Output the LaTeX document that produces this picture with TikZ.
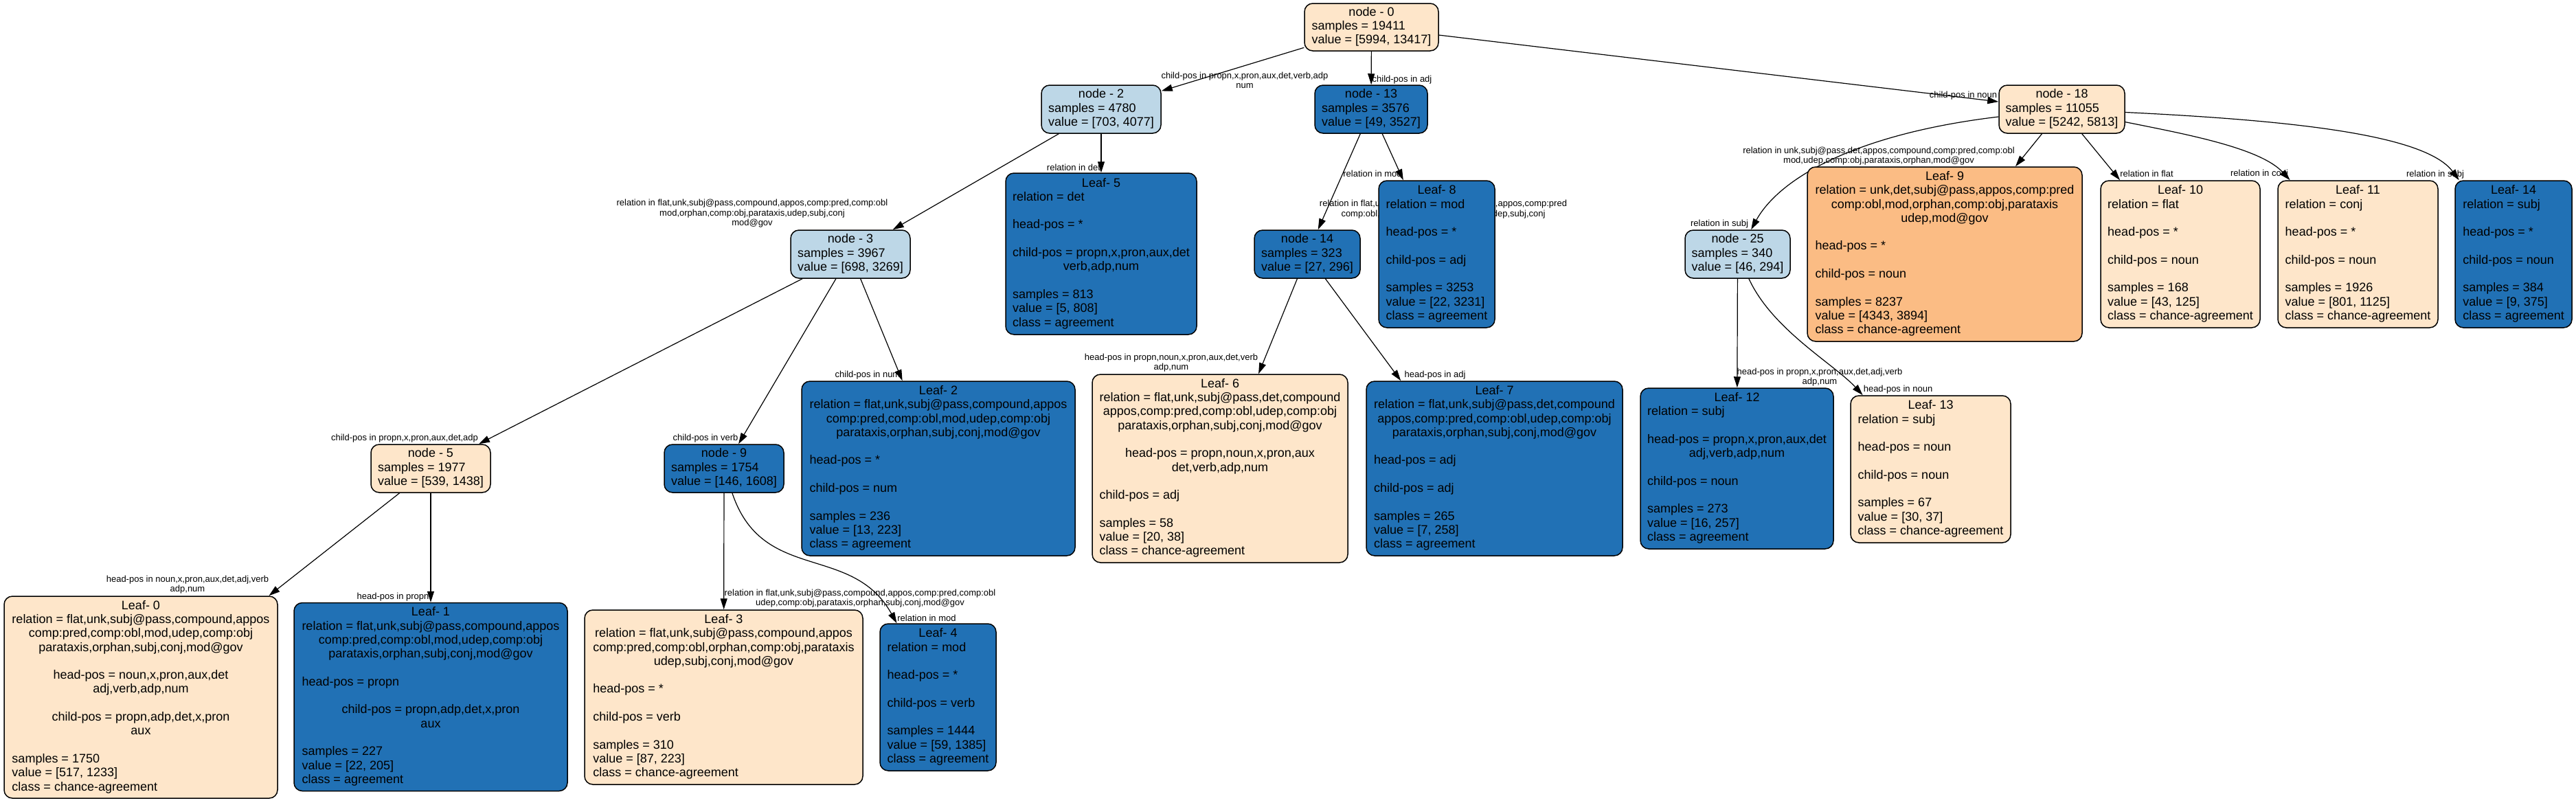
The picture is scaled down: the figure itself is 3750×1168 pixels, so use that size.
\documentclass[tikz,border=0pt]{standalone}
\usepackage{fontspec}
\setmainfont{Liberation Sans}
\usetikzlibrary{arrows.meta,calc}
\pgfdeclarelayer{bg}
\pgfdeclarelayer{paper}
\pgfsetlayers{paper,bg,main}
\definecolor{cream}{HTML}{FEE6CA}
\definecolor{orng}{HTML}{FBBC84}
\definecolor{lblue}{HTML}{BDD7E7}
\definecolor{dblue}{HTML}{2171B5}
\newcommand{\cl}[1]{\multicolumn{1}{@{}c@{}}{#1}}
\newcommand{\nodefont}{\fontsize{18}{20.3}\selectfont}
\newcommand{\edgefont}{\fontsize{13}{14.5}\selectfont}
\newenvironment{lines}{\begin{tabular}{@{}l@{}}}{\end{tabular}}
\tikzset{
  box/.style={draw=black, line width=1.5pt, rounded corners=12pt, inner sep=0pt, font=\nodefont},
  edge/.style={draw=black, line width=1.2pt, -{Triangle[length=16pt,width=10pt]}},
  elab/.style={font=\edgefont, align=center, inner sep=0pt}
}
\begin{document}
\begin{tikzpicture}[x=1pt,y=-1pt]
\begin{pgfonlayer}{paper}
\fill[white] (0,0) rectangle (3750,1168);
\end{pgfonlayer}
\useasboundingbox (0,0) rectangle (3750,1168);

% rank 0
\node[box, fill=cream, minimum width=195pt, minimum height=69pt] (n0) at (1996.5,39.5)
 {\begin{lines}\cl{node - 0}\\samples = 19411\\value = [5994, 13417]\end{lines}};
% rank 1
\node[box, fill=lblue, minimum width=174pt, minimum height=70pt] (n2) at (1603,159)
 {\begin{lines}\cl{node - 2}\\samples = 4780\\value = [703, 4077]\end{lines}};
\node[box, fill=dblue, minimum width=164pt, minimum height=70pt] (n13) at (1996,159)
 {\begin{lines}\cl{node - 13}\\samples = 3576\\value = [49, 3527]\end{lines}};
\node[box, fill=cream, minimum width=183pt, minimum height=70pt] (n18) at (3001.5,159)
 {\begin{lines}\cl{node - 18}\\samples = 11055\\value = [5242, 5813]\end{lines}};
% rank 2
\node[box, fill=lblue, minimum width=174pt, minimum height=70pt] (n3) at (1238,370)
 {\begin{lines}\cl{node - 3}\\samples = 3967\\value = [698, 3269]\end{lines}};
\node[box, fill=dblue, minimum width=278pt, minimum height=235pt] (L5) at (1603,369.5)
 {\begin{lines}\cl{Leaf- 5}\\relation = det\\ \\head-pos = *\\ \\\cl{child-pos = propn,x,pron,aux,det}\\\cl{verb,adp,num}\\ \\samples = 813\\value = [5, 808]\\class = agreement\end{lines}};
\node[box, fill=dblue, minimum width=154pt, minimum height=70pt] (n14) at (1903,370)
 {\begin{lines}\cl{node - 14}\\samples = 323\\value = [27, 296]\end{lines}};
\node[box, fill=lblue, minimum width=153pt, minimum height=70pt] (n25) at (2529.5,370)
 {\begin{lines}\cl{node - 25}\\samples = 340\\value = [46, 294]\end{lines}};
\node[box, fill=orng, minimum width=400pt, minimum height=254pt] (L9) at (2831,370)
 {\begin{lines}\cl{Leaf- 9}\\\cl{relation = unk,det,subj@pass,appos,comp:pred}\\\cl{comp:obl,mod,orphan,comp:obj,parataxis}\\\cl{udep,mod@gov}\\ \\head-pos = *\\ \\child-pos = noun\\ \\samples = 8237\\value = [4343, 3894]\\class = chance-agreement\end{lines}};
\node[box, fill=cream, minimum width=232pt, minimum height=214pt] (L10) at (3174,370)
 {\begin{lines}\cl{Leaf- 10}\\relation = flat\\ \\head-pos = *\\ \\child-pos = noun\\ \\samples = 168\\value = [43, 125]\\class = chance-agreement\end{lines}};
\node[box, fill=cream, minimum width=233pt, minimum height=214pt] (L11) at (3432.5,370)
 {\begin{lines}\cl{Leaf- 11}\\relation = conj\\ \\head-pos = *\\ \\child-pos = noun\\ \\samples = 1926\\value = [801, 1125]\\class = chance-agreement\end{lines}};
\node[box, fill=dblue, minimum width=170pt, minimum height=214pt] (L14) at (3659,370)
 {\begin{lines}\cl{Leaf- 14}\\relation = subj\\ \\head-pos = *\\ \\child-pos = noun\\ \\samples = 384\\value = [9, 375]\\class = agreement\end{lines}};
% rank 3
\node[box, fill=cream, minimum width=174pt, minimum height=70pt] (n5) at (627,682)
 {\begin{lines}\cl{node - 5}\\samples = 1977\\value = [539, 1438]\end{lines}};
\node[box, fill=dblue, minimum width=174pt, minimum height=70pt] (n9) at (1054,682)
 {\begin{lines}\cl{node - 9}\\samples = 1754\\value = [146, 1608]\end{lines}};
\node[box, fill=dblue, minimum width=398pt, minimum height=254pt] (L2) at (1366,682)
 {\begin{lines}\cl{Leaf- 2}\\\cl{relation = flat,unk,subj@pass,compound,appos}\\\cl{comp:pred,comp:obl,mod,udep,comp:obj}\\\cl{parataxis,orphan,subj,conj,mod@gov}\\ \\head-pos = *\\ \\child-pos = num\\ \\samples = 236\\value = [13, 223]\\class = agreement\end{lines}};
\node[box, fill=cream, minimum width=372pt, minimum height=274pt] (L6) at (1776,682)
 {\begin{lines}\cl{Leaf- 6}\\\cl{relation = flat,unk,subj@pass,det,compound}\\\cl{appos,comp:pred,comp:obl,udep,comp:obj}\\\cl{parataxis,orphan,subj,conj,mod@gov}\\ \\\cl{head-pos = propn,noun,x,pron,aux}\\\cl{det,verb,adp,num}\\ \\child-pos = adj\\ \\samples = 58\\value = [20, 38]\\class = chance-agreement\end{lines}};
\node[box, fill=dblue, minimum width=373pt, minimum height=254pt] (L7) at (2175.5,682)
 {\begin{lines}\cl{Leaf- 7}\\\cl{relation = flat,unk,subj@pass,det,compound}\\\cl{appos,comp:pred,comp:obl,udep,comp:obj}\\\cl{parataxis,orphan,subj,conj,mod@gov}\\ \\head-pos = adj\\ \\child-pos = adj\\ \\samples = 265\\value = [7, 258]\\class = agreement\end{lines}};
\node[box, fill=dblue, minimum width=281pt, minimum height=234pt] (L12) at (2528.5,682)
 {\begin{lines}\cl{Leaf- 12}\\relation = subj\\ \\\cl{head-pos = propn,x,pron,aux,det}\\\cl{adj,verb,adp,num}\\ \\child-pos = noun\\ \\samples = 273\\value = [16, 257]\\class = agreement\end{lines}};
\node[box, fill=cream, minimum width=233pt, minimum height=214pt] (L13) at (2810.5,683)
 {\begin{lines}\cl{Leaf- 13}\\relation = subj\\ \\head-pos = noun\\ \\child-pos = noun\\ \\samples = 67\\value = [30, 37]\\class = chance-agreement\end{lines}};
\node[box, fill=dblue, minimum width=169pt, minimum height=214pt] (L8) at (2091.5,370)
 {\begin{lines}\cl{Leaf- 8}\\relation = mod\\ \\head-pos = *\\ \\child-pos = adj\\ \\samples = 3253\\value = [22, 3231]\\class = agreement\end{lines}};
% rank 4
\node[box, fill=cream, minimum width=398pt, minimum height=294pt] (L0) at (205,1015)
 {\begin{lines}\cl{Leaf- 0}\\\cl{relation = flat,unk,subj@pass,compound,appos}\\\cl{comp:pred,comp:obl,mod,udep,comp:obj}\\\cl{parataxis,orphan,subj,conj,mod@gov}\\ \\\cl{head-pos = noun,x,pron,aux,det}\\\cl{adj,verb,adp,num}\\ \\\cl{child-pos = propn,adp,det,x,pron}\\\cl{aux}\\ \\samples = 1750\\value = [517, 1233]\\class = chance-agreement\end{lines}};
\node[box, fill=dblue, minimum width=398pt, minimum height=274pt] (L1) at (627,1014.5)
 {\begin{lines}\cl{Leaf- 1}\\\cl{relation = flat,unk,subj@pass,compound,appos}\\\cl{comp:pred,comp:obl,mod,udep,comp:obj}\\\cl{parataxis,orphan,subj,conj,mod@gov}\\ \\head-pos = propn\\ \\\cl{child-pos = propn,adp,det,x,pron}\\\cl{aux}\\ \\samples = 227\\value = [22, 205]\\class = agreement\end{lines}};
\node[box, fill=cream, minimum width=405pt, minimum height=254pt] (L3) at (1053.5,1015)
 {\begin{lines}\cl{Leaf- 3}\\\cl{relation = flat,unk,subj@pass,compound,appos}\\\cl{comp:pred,comp:obl,orphan,comp:obj,parataxis}\\\cl{udep,subj,conj,mod@gov}\\ \\head-pos = *\\ \\child-pos = verb\\ \\samples = 310\\value = [87, 223]\\class = chance-agreement\end{lines}};
\node[box, fill=dblue, minimum width=169pt, minimum height=214pt] (L4) at (1365.5,1015)
 {\begin{lines}\cl{Leaf- 4}\\relation = mod\\ \\head-pos = *\\ \\child-pos = verb\\ \\samples = 1444\\value = [59, 1385]\\class = agreement\end{lines}};

\begin{pgfonlayer}{bg}
% edges
\draw[edge] (n0) -- (n2);
\draw[edge] (n0) -- (n13);
\draw[edge] (n0) -- (n18);
\draw[edge] (n2) -- (n3);
\draw[edge] (n2) -- (L5);
\draw[edge] (n13) -- (n14);
\draw[edge] (n13) -- (L8);
\draw[edge] (n18) .. controls (2700,195) and (2590,260) .. (n25);
\draw[edge] (n18) -- (L9);
\draw[edge] (n18) -- (L10);
\draw[edge] (n18) .. controls (3180,195) and (3290,215) .. (L11);
\draw[edge] (n18) .. controls (3330,175) and (3530,195) .. (L14);
\draw[edge] (n3) -- (n5);
\draw[edge] (n3) -- (n9);
\draw[edge] (n3) -- (L2);
\draw[edge] (n14) -- (L6);
\draw[edge] (n14) -- ([xshift=51pt]L7.north west);
\draw[edge] (n25) -- (L12);
\draw[edge] (n25) .. controls (2580,480) and (2670,530) .. (L13);
\draw[edge] (n5) -- (L0);
\draw[edge] (n5) -- (L1);
\draw[edge] (n9) -- (L3);
\draw[edge] (n9) .. controls (1110,850) and (1240,790) .. (L4);
% edge labels
\node[elab] (t02) at (1812,117) {child-pos in propn,x,pron,aux,det,verb,adp\\num};
\node[elab] (t013) at (2041,116) {child-pos in adj};
\node[elab] (t018) at (2858,139) {child-pos in noun};
\node[elab] (t23) at (1095,311) {relation in flat,unk,subj@pass,compound,appos,comp:pred,comp:obl\\mod,orphan,comp:obj,parataxis,udep,subj,conj\\mod@gov};
\node[elab] (t2L5) at (1563,244) {relation in det};
\node[elab] (t1314) at (2101,312) {relation in flat,unk,subj@pass,det,compound,appos,comp:pred\\comp:obl,orphan,comp:obj,parataxis,udep,subj,conj\\mod@gov};
\node[elab] (t13L8) at (1998,253) {relation in mod};
\node[elab] (t18L9) at (2735,227) {relation in unk,subj@pass,det,appos,compound,comp:pred,comp:obl\\mod,udep,comp:obj,parataxis,orphan,mod@gov};
\node[elab] (t1825) at (2503,326) {relation in subj};
\node[elab] (t18L10) at (3125,253) {relation in flat};
\node[elab] (t18L11) at (3289,253) {relation in conj};
\node[elab] (t18L14) at (3545,254) {relation in subj};
\node[elab] (t35) at (589,638) {child-pos in propn,x,pron,aux,det,adp};
\node[elab] (t39) at (1027,638) {child-pos in verb};
\node[elab] (t3L2) at (1263,546) {child-pos in num};
\node[elab] (t5L0) at (273,851) {head-pos in noun,x,pron,aux,det,adj,verb\\adp,num};
\node[elab] (t5L1) at (572,869) {head-pos in propn};
\node[elab] (t9L3) at (1252,871) {relation in flat,unk,subj@pass,compound,appos,comp:pred,comp:obl\\udep,comp:obj,parataxis,orphan,subj,conj,mod@gov};
\node[elab] (t9L4) at (1349,900) {relation in mod};
\node[elab] (t14L6) at (1705,528) {head-pos in propn,noun,x,pron,aux,det,verb\\adp,num};
\node[elab] (t14L7) at (2089,546) {head-pos in adj};
\node[elab] (t25L12) at (2649,549) {head-pos in propn,x,pron,aux,det,adj,verb\\adp,num};
\node[elab] (t25L13) at (2763,567) {head-pos in noun};
\end{pgfonlayer}
\end{tikzpicture}
\end{document}
